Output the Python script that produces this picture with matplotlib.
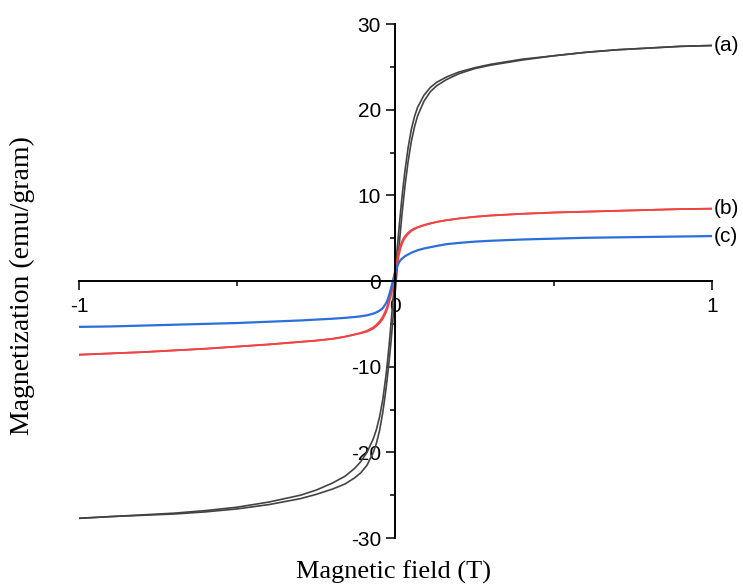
import numpy as np
import matplotlib.pyplot as plt
from matplotlib.ticker import MultipleLocator

# Field values (T) shared by all branches
field = [-1, -0.9, -0.8, -0.7, -0.6, -0.5, -0.4, -0.3, -0.25, -0.2, -0.16, -0.13,
         -0.11, -0.09, -0.07, -0.06, -0.05, -0.04, -0.03, -0.025, -0.02, -0.015, -0.01, -0.005,
         0,
         0.005, 0.01, 0.015, 0.02, 0.025, 0.03, 0.04, 0.05, 0.06, 0.07, 0.09, 0.11,
         0.13, 0.16, 0.2, 0.25, 0.3, 0.4, 0.5, 0.6, 0.7, 0.8, 0.9, 1]

# Sample (a): two branches of the loop (emu/gram)
a_down = [-27.7, -27.5, -27.3, -27.1, -26.8, -26.4, -25.8, -25.0, -24.4, -23.6, -22.8, -21.9,
          -21.1, -20.0, -18.4, -17.3, -15.8, -13.8, -11.0, -9.3, -7.4, -5.3, -3.1, -0.9,
          1.4,
          3.6, 5.7, 7.7, 9.6, 11.3, 12.9, 15.6, 17.7, 19.2, 20.3, 21.7, 22.6,
          23.2, 23.8, 24.4, 24.9, 25.3, 25.9, 26.3, 26.7, 27.0, 27.2, 27.4, 27.5]
a_up = [-27.7, -27.5, -27.35, -27.2, -26.95, -26.6, -26.1, -25.4, -24.9, -24.3, -23.7, -23.0,
        -22.4, -21.5, -20.0, -18.9, -17.4, -15.3, -12.6, -11.0, -9.3, -7.4, -5.3, -3.1,
        -0.9,
        1.3, 3.5, 5.6, 7.6, 9.4, 11.1, 14.0, 16.3, 18.0, 19.3, 21.0, 22.1,
        22.8, 23.5, 24.2, 24.8, 25.2, 25.8, 26.3, 26.7, 27.0, 27.2, 27.4, 27.5]

# Sample (b)
b_down = [-8.6, -8.45, -8.3, -8.1, -7.9, -7.65, -7.4, -7.1, -6.95, -6.75, -6.5, -6.25,
          -6.05, -5.8, -5.4, -5.1, -4.7, -4.15, -3.35, -2.8, -2.1, -1.35, -0.5, 0.5,
          1.5,
          2.5, 3.4, 4.1, 4.6, 4.95, 5.25, 5.65, 5.95, 6.15, 6.3, 6.55, 6.75,
          6.9, 7.1, 7.3, 7.5, 7.65, 7.85, 8.0, 8.1, 8.2, 8.3, 8.4, 8.45]
b_up = [-8.6, -8.45, -8.3, -8.1, -7.9, -7.65, -7.4, -7.1, -6.95, -6.75, -6.5, -6.25,
        -6.1, -5.9, -5.55, -5.25, -4.9, -4.4, -3.65, -3.15, -2.5, -1.8, -1.0, -0.1,
        0.9,
        1.9, 2.9, 3.7, 4.3, 4.7, 5.05, 5.5, 5.85, 6.05, 6.25, 6.5, 6.7,
        6.9, 7.1, 7.3, 7.5, 7.65, 7.85, 8.0, 8.1, 8.2, 8.3, 8.4, 8.45]

# Sample (c)
c_mag = [-5.35, -5.3, -5.2, -5.1, -5.0, -4.9, -4.75, -4.6, -4.5, -4.4, -4.3, -4.2,
         -4.12, -4.0, -3.8, -3.65, -3.45, -3.15, -2.6, -2.2, -1.6, -0.95, -0.25, 0.5,
         1.15,
         1.7, 2.1, 2.4, 2.6, 2.75, 2.9, 3.1, 3.3, 3.45, 3.6, 3.8, 3.95,
         4.1, 4.3, 4.45, 4.6, 4.7, 4.85, 4.95, 5.05, 5.1, 5.15, 5.2, 5.25]

labels = ['(a)', '(b)', '(c)']

fig = plt.figure(figsize=(7.43, 5.86), dpi=100)
ax = fig.add_axes([0.1063, 0.0819, 0.852, 0.877])

# Curves
ax.plot(field, a_down, color='#434343', linewidth=1.2)
ax.plot(field, a_up, color='#434343', linewidth=1.2)
ax.plot(field, b_down, color='#f04444', linewidth=1.3)
ax.plot(field, b_up, color='#f04444', linewidth=1.3)
ax.plot(field, c_mag, color='#2a6fdb', linewidth=1.6)

# Labels at the end of each curve
ends = [a_down[-1], b_down[-1], c_mag[-1]]
for lab, yv in zip(labels, ends):
    ax.text(1.004, yv, lab, fontsize=15, family='Liberation Sans',
            ha='left', va='center', clip_on=False)

# Axes crossing at the origin
ax.set_xlim(-1, 1)
ax.set_ylim(-30, 30)
ax.spines['left'].set_position(('data', 0))
ax.spines['bottom'].set_position(('data', 0))
ax.spines['top'].set_visible(False)
ax.spines['right'].set_visible(False)
ax.spines['left'].set_linewidth(1.4)
ax.spines['bottom'].set_linewidth(1.4)

ax.xaxis.set_minor_locator(MultipleLocator(0.5))
ax.yaxis.set_minor_locator(MultipleLocator(5))
ax.set_xticks([-1, 0, 1])
ax.set_xticklabels(['-1', '0', '1'])
ax.set_yticks([-30, -20, -10, 0, 10, 20, 30])
ax.set_yticklabels(['-30', '-20', '-10', '0', '10', '20', '30'])

ax.tick_params(which='major', direction='out', length=6.5, width=1.1, pad=4,
               labelsize=15)
ax.tick_params(which='minor', direction='out', length=3.5, width=1.1)
ax.tick_params(axis='x', which='major', pad=5)
for t in ax.get_xticklabels() + ax.get_yticklabels():
    t.set_family('Liberation Sans')

# Axis titles at the figure edges
fig.text(0.530, 0.024, 'Magnetic field (T)', fontsize=19, family='Liberation Serif',
         ha='center', va='center')
fig.text(0.030, 0.512, 'Magnetization (emu/gram)', fontsize=20, family='Liberation Serif',
         ha='center', va='center', rotation=90)

plt.savefig('out.png', dpi=100)
